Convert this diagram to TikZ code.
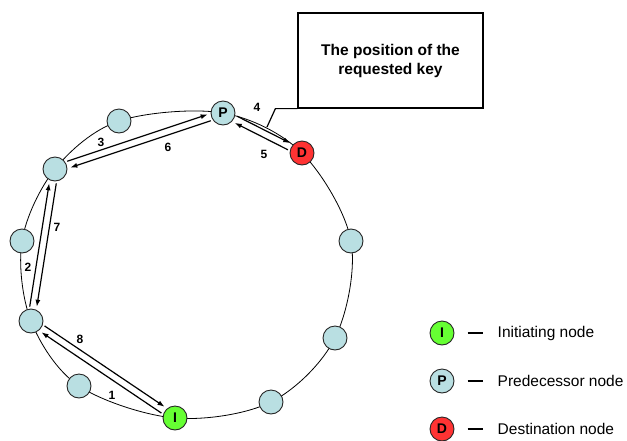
\documentclass[tikz,border=0pt]{standalone}
\usepackage{fontspec}
\setmainfont{Liberation Sans}
\usetikzlibrary{calc,arrows.meta,backgrounds}

\definecolor{peerblue}{RGB}{185,223,226}
\definecolor{initgreen}{RGB}{102,255,51}
\definecolor{destred}{RGB}{255,51,51}

\tikzset{
  peer/.style={circle,draw=black!85,line width=0.9pt,fill=peerblue,
    minimum size=24pt,inner sep=0pt,font=\fontsize{14}{14}\selectfont\bfseries},
  initpeer/.style={peer,fill=initgreen},
  destpeer/.style={peer,fill=destred},
  msg/.style={line width=1.2pt,-{Latex[length=7pt,width=5pt]},
    shorten <=14pt,shorten >=15pt},
  steplabel/.style={font=\fontsize{12}{12}\selectfont\bfseries,inner sep=0pt},
  ring/.style={line width=0.8pt},
  keybox/.style={draw,line width=1.2pt,minimum width=185pt,minimum height=95pt,
    align=center,font=\fontsize{15.5}{19}\selectfont\bfseries},
  legendtext/.style={font=\fontsize{15.5}{16}\selectfont,anchor=west,inner sep=0pt},
  legenddash/.style={line width=1.6pt},
}

% message arrow from #1 to #2, kept on the left side of its direction of travel
\newcommand{\msgarrow}[2]{%
  \draw[msg] ($(#1.center)!3.5pt!90:(#2.center)$) -- ($(#2.center)!3.5pt!-90:(#1.center)$);}

\begin{document}
\begin{tikzpicture}[x=1pt,y=-1pt]
\useasboundingbox (0,0) rectangle (627,440);

% peers on the ring
\node[peer]      (P)  at (223,113) {P};
\node[destpeer]  (D)  at (302,153) {D};
\node[peer]      (R)  at (351,241) {};
\node[peer]      (LR) at (335,338) {};
\node[peer]      (BR) at (271,402) {};
\node[initpeer]  (I)  at (175,418) {I};
\node[peer]      (BL) at (79,386)  {};
\node[peer]      (LL) at (31,321)  {};
\node[peer]      (L)  at (22,241)  {};
\node[peer]      (UL) at (55,169)  {};
\node[peer]      (TL) at (119,121) {};

% the ring itself, behind the peers
\begin{scope}[on background layer]
\draw[ring] plot[smooth cycle,tension=0.55] coordinates {
  (P.center) (D.center) (R.center) (LR.center) (BR.center) (I.center)
  (BL.center) (LL.center) (L.center) (UL.center) (TL.center)};
\end{scope}

% lookup messages
\msgarrow{I}{LL}
\msgarrow{LL}{UL}
\msgarrow{UL}{P}
\msgarrow{P}{D}
\msgarrow{D}{P}
\msgarrow{P}{UL}
\msgarrow{UL}{LL}
\msgarrow{LL}{I}

\node[steplabel] (s1) at (112,395) {1};
\node[steplabel] (s2) at (28,267)  {2};
\node[steplabel] (s3) at (101,142) {3};
\node[steplabel] (s4) at (257,107) {4};
\node[steplabel] (s5) at (264,154) {5};
\node[steplabel] (s6) at (168,147) {6};
\node[steplabel] (s7) at (57,227)  {7};
\node[steplabel] (s8) at (80,339)  {8};

% callout for the key position
\node[keybox] (key) at (390.5,60.5) {The position of the\\requested key};
\coordinate (keypos) at (267,127);
\draw[line width=1.2pt] (key.south west) -- ++(-22,0) -- (keypos);

% legend
\node[initpeer] (legI) at (442,333) {I};
\node[peer]     (legP) at (442,381) {P};
\node[destpeer] (legD) at (442,429) {D};
\draw[legenddash] (467.5,333) -- (482.5,333);
\draw[legenddash] (467.5,381) -- (482.5,381);
\draw[legenddash] (467.5,429) -- (482.5,429);
\node[legendtext] (txtI) at (497.5,333) {Initiating node};
\node[legendtext] (txtP) at (497.5,381) {Predecessor node};
\node[legendtext] (txtD) at (497.5,429) {Destination node};
\end{tikzpicture}
\end{document}
